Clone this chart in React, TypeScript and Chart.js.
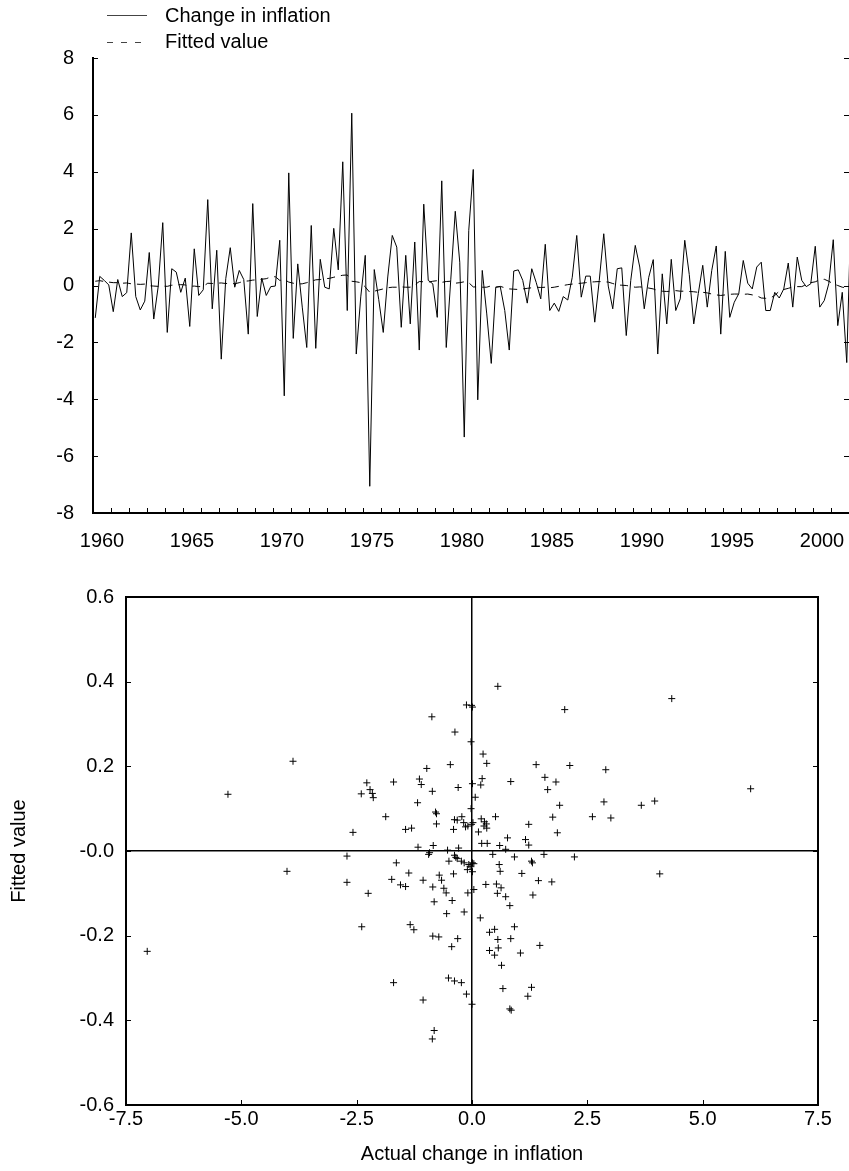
import React, { useEffect, useRef } from 'react';
import { Chart, registerables } from 'chart.js';

Chart.register(...registerables);

const FONT = '"Liberation Sans", Arial, Helvetica, sans-serif';
const FONT_SIZE = 20;

// ---------- time series (quarterly, 1960Q1 onward) ----------
const START_YEAR = 1960;
const END_YEAR = 2002;
const YEAR_LABELS = [1960, 1965, 1970, 1975, 1980, 1985, 1990, 1995, 2000];
const TOP_Y_TICKS = [-8, -6, -4, -2, 0, 2, 4, 6, 8];

const inflationChange = [
  -1.14, 0.32, 0.18, 0.02, -0.92, 0.21, -0.39, -0.25, 1.85, -0.39,
  -0.86, -0.55, 1.16, -1.18, -0.02, 2.21, -1.65, 0.59, 0.47, -0.24,
  0.26, -1.44, 1.29, -0.35, -0.15, 3.02, -0.82, 1.24, -2.59, 0.24,
  1.33, -0.06, 0.53, 0.21, -1.71, 2.88, -1.09, 0.26, -0.35, -0.04,
  -0.02, 1.59, -3.88, 3.96, -1.86, 0.76, -0.76, -2.18, 2.11, -2.21,
  0.92, -0.06, -0.12, 2.01, 0.55, 4.35, -0.88, 6.06, -2.41, -0.4,
  1.06, -7.06, 0.56, -0.5, -1.65, 0.3, 1.76, 1.35, -1.47, 1.06,
  -1.35, 1.53, -2.27, 2.86, 0.18, 0.06, -1.12, 3.68, -2.18, 0.2,
  2.61, 0.82, -5.33, 1.94, 4.08, -4.02, 0.53, -1.0, -2.74, -0.06,
  -0.04, -0.88, -2.27, 0.51, 0.55, 0.18, -0.62, 0.59, 0.1, -0.47,
  1.45, -0.88, -0.62, -0.91, -0.39, -0.51, 0.29, 1.76, -0.41, 0.33,
  0.33, -1.29, 0.18, 1.82, -0.02, -0.82, 0.59, 0.62, -1.76, 0.18,
  1.41, 0.65, -0.82, 0.29, 0.91, -2.41, 0.41, -1.35, 0.92, -0.88,
  -0.47, 1.59, 0.39, -1.35, -0.29, 0.71, -0.76, 0.53, 1.39, -1.71,
  1.2, -1.12, -0.59, -0.29, 0.88, 0.08, -0.12, 0.65, 0.82, -0.88,
  -0.88, -0.24, -0.44, -0.12, 0.79, -0.76, 1.0, 0.18, -0.04, 0.06,
  1.38, -0.76, -0.53, 0.06, 1.61, -1.41, -0.24, -2.71, 3.0,
];

const fittedValue = [
  0.15, 0.17, 0.14, 0.12, 0.1, 0.1, 0.08, 0.09, 0.06, 0.05,
  0.04, 0.05, -0.01, -0.02, -0.03, -0.02, -0.03, 0.01, 0.02, 0.03,
  0.02, -0.03, -0.02, -0.04, -0.03, 0.08, 0.07, 0.08, 0.09, 0.07,
  0.08, 0.06, 0.1, 0.15, 0.16, 0.19, 0.2, 0.22, 0.24, 0.3,
  0.31, 0.18, 0.21, 0.12, 0.08, 0.05, 0.06, 0.1, 0.15, 0.2,
  0.21, 0.24, 0.25, 0.29, 0.33, 0.36, 0.37, 0.15, 0.13, 0.1,
  -0.05, -0.24, -0.2, -0.16, -0.12, -0.08, -0.06, -0.06, -0.05, -0.06,
  -0.06, 0.02, 0.14, 0.13, 0.12, 0.15, 0.17, 0.11, 0.14, 0.15,
  0.08, 0.1, 0.13, 0.1, -0.05, -0.05, -0.06, -0.06, -0.01, -0.06,
  -0.03, -0.08, -0.12, -0.13, -0.14, -0.12, -0.1, -0.08, -0.06, -0.07,
  -0.06, -0.08, -0.06, -0.03, 0.0, 0.03, 0.05, 0.07, 0.08, 0.1,
  0.12, 0.13, 0.14, 0.13, 0.12, 0.07, 0.02, 0.01, 0.0, -0.03,
  -0.06, -0.05, -0.06, -0.09, -0.12, -0.18, -0.2, -0.21, -0.2, -0.18,
  -0.2, -0.2, -0.21, -0.22, -0.24, -0.24, -0.26, -0.3, -0.33, -0.35,
  -0.33, -0.31, -0.3, -0.3, -0.31, -0.3, -0.33, -0.36, -0.44, -0.45,
  -0.44, -0.35, -0.2, -0.14, -0.1, -0.05, -0.04, -0.04, 0.03, 0.1,
  0.13, 0.2, 0.22, 0.15, 0.06, 0.0, -0.06, -0.08, -0.05,
];

// ---------- scatter: actual change vs fitted value ----------
const SCATTER_X_TICKS = [-7.5, -5, -2.5, 0, 2.5, 5, 7.5];
const SCATTER_Y_TICKS = [-0.6, -0.4, -0.2, 0, 0.2, 0.4, 0.6];

const scatterActual = [
  -5.29, -3.88, -4.01, -7.04,
  4.33, 2.9, 6.04, 2.86, 3.67, 3.96, 2.61, 3.01, 4.07,
  0.56, -0.12, 0.01, -0.01, 2.01, -0.87, -0.37, -0.02, 0.24, 0.32,
  -0.47, 1.39, 2.12, -0.98, -1.14, -1.1, 0.22, 0.19, 0.01, 0.84,
  1.58, 1.82, 1.64, -2.28, -2.21, -2.16, -2.14, -2.4, -1.7, -0.3,
  -0.86, 0.07, -1.18, 1.9, -0.02, -0.79, -0.77, -1.87, 1.75, 0.51,
  -0.38, -0.22, -0.32, -0.18, -0.77, 0.2, 0.27, 0.02, -0.01, -0.14,
  -0.09, 0.31, 0.32, 0.26, 1.23, -1.44, -1.31, -0.4, 0.14, -2.58,
  1.85, 0.77, 1.16, 1.23, 0.21, 0.33, 0.6, 0.73, -1.17, -0.84,
  -0.29, -0.53, -0.92, -0.94, -2.71, 0.45, 0.92, 1.56, 2.22, -0.38,
  -0.35, -0.32, -0.5, -1.64, -0.23, -0.17, -0.07, 0.01, -0.04, 0.04,
  0.59, 1.29, 1.31,
  -1.37, -1.74, -2.71, -1.55, -1.44, -2.25, -1.06, -0.71, -0.66, -0.85,
  -0.61, -0.56, -0.4, -0.43, -0.82, -0.55, -0.17, -0.09, 0.04, 0.01,
  -0.1, 0.3, 0.53, 0.63, 0.55, 0.73, 0.82, 0.61, 1.08, 1.44,
  1.73, 1.32, 0.18, -2.39, -1.34, -1.26, -0.85, -0.72, -0.31, -0.44,
  0.38, 0.49, 0.56, 0.57, 0.38, 0.49, 0.92, 0.84, 1.47, 1.05,
  0.64, -1.7, -0.51, -0.38, -0.23, -0.12, 0.0, -1.06, 0.67, 1.29,
  1.21, 0.82, 0.85, -0.82, -0.86,
];

const scatterFitted = [
  0.134, 0.212, -0.048, -0.237,
  0.36, 0.192, 0.147, 0.116, 0.108, 0.118, 0.081, 0.078, -0.054,
  0.389, 0.345, 0.34, 0.344, 0.334, 0.317, 0.281, 0.258, 0.229, 0.207,
  0.204, 0.204, 0.202, 0.195, 0.17, 0.157, 0.171, 0.156, 0.159, 0.164,
  0.174, 0.163, 0.145, 0.161, 0.145, 0.136, 0.126, 0.135, 0.163, 0.15,
  0.141, 0.127, 0.114, 0.108, 0.1, 0.092, 0.088, 0.081, 0.08, 0.081,
  0.074, 0.081, 0.073, 0.067, 0.064, 0.076, 0.069, 0.067, 0.063, 0.057,
  0.059, 0.064, 0.054, 0.059, 0.063, 0.051, 0.054, 0.051, 0.045, 0.044,
  0.043, 0.031, 0.027, 0.014, 0.018, 0.018, 0.013, 0.004, 0.009, 0.013,
  0.007, 0.002, -0.004, -0.008, -0.012, -0.008, -0.014, -0.008, -0.014, -0.01,
  -0.015, -0.018, -0.024, -0.028, -0.024, -0.028, -0.032, -0.028, -0.036, -0.03,
  -0.032, -0.024, -0.028,
  -0.052, -0.067, -0.074, -0.08, -0.084, -0.1, -0.069, -0.057, -0.069, -0.085,
  -0.088, -0.099, -0.054, -0.117, -0.12, -0.148, -0.144, -0.099, -0.091, -0.049,
  -0.044, -0.079, -0.078, -0.087, -0.1, -0.108, -0.129, -0.048, -0.053, -0.07,
  -0.073, -0.104, -0.158, -0.179, -0.174, -0.186, -0.201, -0.203, -0.207, -0.226,
  -0.192, -0.185, -0.209, -0.229, -0.235, -0.246, -0.179, -0.207, -0.223, -0.241,
  -0.27, -0.311, -0.3, -0.307, -0.311, -0.338, -0.362, -0.352, -0.325, -0.322,
  -0.343, -0.373, -0.376, -0.424, -0.444,
];

type FrameCfg = {
  id: string;
  sides: Array<'left' | 'right' | 'top' | 'bottom'>;
  frameWidth: number;
  tickLength: number;
  yTicksLeft: boolean;
  yTicksRight: boolean;
  xTickValues: () => number[];
};

function makeFramePlugin(cfg: FrameCfg) {
  return {
    id: cfg.id,
    afterDatasetsDraw(chart: any) {
      const { ctx, chartArea: a, scales } = chart;
      ctx.save();
      ctx.strokeStyle = '#000';
      // inward tick marks
      ctx.lineWidth = 1;
      ctx.beginPath();
      const yScale = scales.y;
      for (const t of yScale.ticks) {
        const py = Math.round(yScale.getPixelForValue(t.value)) + 0.5;
        if (cfg.yTicksLeft) {
          ctx.moveTo(a.left, py);
          ctx.lineTo(a.left + cfg.tickLength, py);
        }
        if (cfg.yTicksRight) {
          ctx.moveTo(a.right, py);
          ctx.lineTo(a.right - cfg.tickLength, py);
        }
      }
      const xScale = scales.x;
      for (const v of cfg.xTickValues()) {
        const px = Math.round(xScale.getPixelForValue(v)) + 0.5;
        ctx.moveTo(px, a.bottom);
        ctx.lineTo(px, a.bottom - cfg.tickLength);
      }
      ctx.stroke();
      // frame
      ctx.lineWidth = cfg.frameWidth;
      ctx.beginPath();
      if (cfg.sides.includes('left')) { ctx.moveTo(a.left, a.top); ctx.lineTo(a.left, a.bottom); }
      if (cfg.sides.includes('right')) { ctx.moveTo(a.right, a.top); ctx.lineTo(a.right, a.bottom); }
      if (cfg.sides.includes('top')) { ctx.moveTo(a.left, a.top); ctx.lineTo(a.right, a.top); }
      if (cfg.sides.includes('bottom')) { ctx.moveTo(a.left, a.bottom); ctx.lineTo(a.right, a.bottom); }
      ctx.lineCap = 'square';
      ctx.stroke();
      ctx.restore();
    },
  };
}

const tickFont = { family: FONT, size: FONT_SIZE };

function TimeSeriesChart() {
  const ref = useRef<HTMLCanvasElement>(null);
  useEffect(() => {
    if (!ref.current) return;
    const yearTicks: number[] = [];
    for (let y = START_YEAR; y <= END_YEAR; y++) yearTicks.push(y);
    const toPoints = (arr: number[]) =>
      arr.map((v, i) => ({ x: START_YEAR + (i + 0.5) / 4, y: v }));
    const chart = new Chart(ref.current, {
      type: 'line',
      data: {
        datasets: [
          {
            label: 'Change in inflation',
            data: toPoints(inflationChange),
            borderColor: '#000',
            borderWidth: 1,
            pointRadius: 0,
            tension: 0,
            clip: 0,
          },
          {
            label: 'Fitted value',
            data: toPoints(fittedValue),
            borderColor: '#000',
            borderWidth: 1,
            borderDash: [8, 6],
            pointRadius: 0,
            tension: 0,
            clip: 0,
          },
        ],
      },
      options: {
        animation: false,
        responsive: false,
        devicePixelRatio: 1,
        layout: { padding: { top: 58, left: 0, right: 0, bottom: 0 } },
        plugins: { legend: { display: false }, tooltip: { enabled: false } },
        scales: {
          x: {
            type: 'linear',
            min: START_YEAR,
            max: END_YEAR,
            grid: { display: false },
            border: { display: false },
            afterBuildTicks: (s: any) => {
              s.ticks = YEAR_LABELS.map((y) => ({ value: y + 0.5 }));
            },
            afterFit: (s: any) => {
              s.height = 47;
              s.paddingLeft = 0;
              s.paddingRight = 0;
            },
            ticks: {
              autoSkip: false,
              maxRotation: 0,
              padding: 8,
              color: '#000',
              font: tickFont,
              callback: (v: any) => String(Math.floor(Number(v))),
            },
          },
          y: {
            min: -8,
            max: 8,
            grid: { display: false },
            border: { display: false },
            afterBuildTicks: (s: any) => {
              s.ticks = TOP_Y_TICKS.map((v) => ({ value: v }));
            },
            afterFit: (s: any) => {
              s.width = 93;
              s.paddingTop = 0;
              s.paddingBottom = 0;
            },
            ticks: {
              padding: 11,
              color: '#000',
              font: tickFont,
              callback: (v: any) => String(v),
            },
          },
        },
      },
      plugins: [
        makeFramePlugin({
          id: 'tsFrame',
          sides: ['left', 'bottom'],
          frameWidth: 2,
          tickLength: 5,
          yTicksLeft: true,
          yTicksRight: true,
          xTickValues: () => yearTicks,
        }),
      ],
    } as any);
    return () => chart.destroy();
  }, []);
  return <canvas ref={ref} width={849} height={560} style={{ display: 'block' }} />;
}

function ScatterChart() {
  const ref = useRef<HTMLCanvasElement>(null);
  useEffect(() => {
    if (!ref.current) return;
    const zeroLine = (c: any) =>
      c.tick && Math.abs(c.tick.value) < 1e-9 ? '#000' : 'rgba(0,0,0,0)';
    const chart = new Chart(ref.current, {
      type: 'scatter',
      data: {
        datasets: [
          {
            label: 'Fitted vs actual',
            data: scatterActual.map((x, i) => ({ x, y: scatterFitted[i] })),
            pointStyle: 'cross',
            pointRadius: 3.5,
            pointBorderWidth: 1,
            pointBorderColor: '#000',
            pointBackgroundColor: '#000',
            showLine: false,
          },
        ],
      },
      options: {
        animation: false,
        responsive: false,
        devicePixelRatio: 1,
        layout: { padding: { top: 27, left: 0, right: 31, bottom: 0 } },
        plugins: { legend: { display: false }, tooltip: { enabled: false } },
        scales: {
          x: {
            type: 'linear',
            min: -7.5,
            max: 7.5,
            grid: { display: true, drawTicks: false, color: zeroLine, lineWidth: 1.5 },
            border: { display: false },
            afterBuildTicks: (s: any) => {
              s.ticks = SCATTER_X_TICKS.map((v) => ({ value: v }));
            },
            afterFit: (s: any) => {
              s.height = 66;
              s.paddingLeft = 0;
              s.paddingRight = 0;
            },
            ticks: {
              autoSkip: false,
              maxRotation: 0,
              padding: 2,
              color: '#000',
              font: tickFont,
              callback: (v: any) => Number(v).toFixed(1),
            },
            title: {
              display: true,
              text: 'Actual change in inflation',
              color: '#000',
              font: tickFont,
              padding: { top: 0, bottom: 5 },
            },
          },
          y: {
            min: -0.6,
            max: 0.6,
            grid: { display: true, drawTicks: false, color: zeroLine, lineWidth: 1.5 },
            border: { display: false },
            afterBuildTicks: (s: any) => {
              s.ticks = SCATTER_Y_TICKS.map((v) => ({ value: v }));
            },
            afterFit: (s: any) => {
              s.width = 126;
              s.paddingTop = 0;
              s.paddingBottom = 0;
            },
            ticks: {
              padding: 12,
              color: '#000',
              font: tickFont,
              callback: (v: any) => (Math.abs(Number(v)) < 1e-9 ? '-0.0' : Number(v).toFixed(1)),
            },
            title: {
              display: true,
              text: 'Fitted value',
              color: '#000',
              font: tickFont,
              padding: { top: 7, bottom: 0 },
            },
          },
        },
      },
      plugins: [
        makeFramePlugin({
          id: 'scFrame',
          sides: ['left', 'right', 'top', 'bottom'],
          frameWidth: 2,
          tickLength: 5,
          yTicksLeft: true,
          yTicksRight: true,
          xTickValues: () => SCATTER_X_TICKS,
        }),
      ],
    } as any);
    return () => chart.destroy();
  }, []);
  return <canvas ref={ref} width={849} height={601} style={{ display: 'block' }} />;
}

export default function App() {
  const textStyle: React.CSSProperties = {
    position: 'absolute',
    fontFamily: FONT,
    fontSize: FONT_SIZE,
    lineHeight: '20px',
    whiteSpace: 'nowrap',
    color: '#000',
  };
  return (
    <div
      style={{
        position: 'absolute',
        left: 0,
        top: 0,
        width: 849,
        height: 1171,
        background: '#fff',
        overflow: 'hidden',
      }}
    >
      <div style={{ position: 'absolute', left: 0, top: 0 }}>
        <TimeSeriesChart />
      </div>
      <div style={{ position: 'absolute', left: 0, top: 570 }}>
        <ScatterChart />
      </div>
      <svg
        width={200}
        height={60}
        style={{ position: 'absolute', left: 0, top: 0, overflow: 'visible' }}
      >
        <line x1={107} y1={15.5} x2={147} y2={15.5} stroke="#444" strokeWidth={1} />
        <line
          x1={107}
          y1={42.5}
          x2={147}
          y2={42.5}
          stroke="#444"
          strokeWidth={1}
          strokeDasharray="6 8"
        />
      </svg>
      <div style={{ ...textStyle, left: 165, top: 4.8 }}>Change in inflation</div>
      <div style={{ ...textStyle, left: 165, top: 31.4 }}>Fitted value</div>
    </div>
  );
}
